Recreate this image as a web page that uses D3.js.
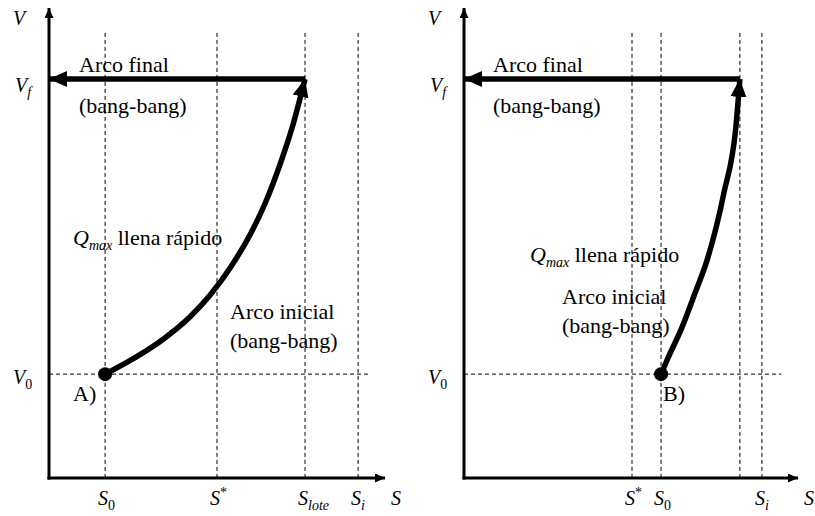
<!DOCTYPE html>
<html>
<head>
<meta charset="utf-8">
<script src="https://cdn.jsdelivr.net/npm/d3@7"></script>
<style>
  body { margin: 0; background: #fff; }
</style>
</head>
<body>
<svg id="chart" width="815" height="516"></svg>
<script>
// Substrate levels on the S axis (normalised units 0–100)
const sTicksA = [16.7, 50, 76.2, 92];
const sTickLabelsA = ["S_0", "S^*", "S_lote", "S_i"];
const sTicksB = [50.3, 59, 82.6, 89.2];
const sTickLabelsB = ["S^*", "S_0", "", "S_i"];

// Volume levels on the V axis (normalised units 0–100)
const vLevels = [22.1, 84.9];
const vLabels = ["V_0", "V_f"];

// Fast-fill trajectory (Q_max), case A
const arcA_S = [16.7, 25.6, 34.5, 42.0, 47.9, 53.9, 59.8, 64.3, 68.75, 72.3, 76.2];
const arcA_V = [22.1, 25.6, 29.8, 34.3, 38.9, 44.7, 51.7, 58.4, 66.7, 74.4, 84.9];
// Fast-fill trajectory (Q_max), case B
const arcB_S = [59.0, 60.8, 65.3, 69.2, 72.8, 77.8, 81.4, 82.6];
const arcB_V = [22.1, 25.1, 32.1, 39.4, 46.4, 60.6, 74.7, 84.9];

const FONT_FAMILY = "'Liberation Serif'";
const svg = d3.select("#chart");
const y = d3.scaleLinear().domain([0, 100]).range([478, 8]);
const FONT = 22, SYM = 20, SUB = 14;

const defs = svg.append("defs");
function head(id, len, wid) {
  defs.append("marker")
    .attr("id", id)
    .attr("viewBox", `0 0 ${len} ${wid}`)
    .attr("refX", len).attr("refY", wid / 2)
    .attr("markerWidth", len).attr("markerHeight", wid)
    .attr("markerUnits", "userSpaceOnUse")
    .attr("orient", "auto")
    .append("path")
    .attr("d", `M0,0L${len},${wid / 2}L0,${wid}Z`)
    .attr("fill", "#000");
}
head("axisHead", 10, 9);
head("bigHead", 18, 16);

function textAt(g, px, py, size) {
  return g.append("text")
    .attr("x", px).attr("y", py)
    .attr("font-size", size)
    .style("font-family", FONT_FAMILY)
    .attr("fill", "#000");
}

// Symbol with optional subscript / superscript
function symbol(g, str, px, py) {
  const t = textAt(g, px, py, SYM);
  let base = str, sub = null, sup = null;
  if (str.includes("_")) { [base, sub] = str.split("_"); }
  else if (str.includes("^")) { [base, sup] = str.split("^"); }
  t.append("tspan").attr("font-style", "italic").text(base);
  if (sub) {
    t.append("tspan").attr("font-size", SUB).attr("dy", 5)
      .attr("font-style", /[a-z]/.test(sub) ? "italic" : "normal").text(sub);
  }
  if (sup) {
    t.append("tspan").attr("font-size", SUB).attr("dy", -8).text(sup);
  }
}
function plain(g, str, px, py) {
  textAt(g, px, py, FONT).text(str);
}
function qmax(g, px, py) {
  const t = textAt(g, px, py, FONT);
  t.append("tspan").attr("font-style", "italic").text("Q");
  t.append("tspan").attr("font-style", "italic").attr("font-size", SUB).attr("dy", 5).text("max");
  t.append("tspan").attr("dy", -5).text(" llena rápido");
}

const panels = [
  { x0: 49, x1: 385, ticks: sTicksA, tickLabels: sTickLabelsA, arcS: arcA_S, arcV: arcA_V,
    tag: "A)", final: [30, 72, 113], q: [24, 245], initial: [181, 319, 348], tagPos: [24, 401] },
  { x0: 464, x1: 798, ticks: sTicksB, tickLabels: sTickLabelsB, arcS: arcB_S, arcV: arcB_V,
    tag: "B)", final: [29, 72, 113], q: [66, 262], initial: [98, 304, 333], tagPos: [199, 401] }
];

panels.forEach(p => {
  const x = d3.scaleLinear().domain([0, 100]).range([p.x0, p.x1]);
  const g = svg.append("g");
  const ax = x(0);

  // dashed guides
  p.ticks.forEach(s => {
    g.append("line")
      .attr("x1", x(s)).attr("x2", x(s))
      .attr("y1", y(94.7)).attr("y2", y(0))
      .attr("stroke", "#000").attr("stroke-width", 1).attr("stroke-dasharray", "4,3");
  });
  g.append("line")
    .attr("x1", x(0)).attr("x2", x(95))
    .attr("y1", y(vLevels[0])).attr("y2", y(vLevels[0]))
    .attr("stroke", "#000").attr("stroke-width", 1).attr("stroke-dasharray", "4,3");

  // axes
  g.append("line").attr("x1", ax).attr("x2", ax).attr("y1", y(0) + 1.5).attr("y2", y(100))
    .attr("stroke", "#000").attr("stroke-width", 3).attr("marker-end", "url(#axisHead)");
  g.append("line").attr("x1", ax - 1.5).attr("x2", x(100)).attr("y1", y(0)).attr("y2", y(0))
    .attr("stroke", "#000").attr("stroke-width", 3).attr("marker-end", "url(#axisHead)");

  // final arc (bang-bang) at V_f back to the axis
  const sEnd = p.arcS[p.arcS.length - 1];
  g.append("line")
    .attr("x1", x(sEnd)).attr("x2", x(0))
    .attr("y1", y(vLevels[1])).attr("y2", y(vLevels[1]))
    .attr("stroke", "#000").attr("stroke-width", 5.5).attr("marker-end", "url(#bigHead)");

  // Q_max fast-fill arc
  const pts = p.arcS.map((s, i) => [s, p.arcV[i]]);
  g.append("path")
    .attr("d", d3.line().x(d => x(d[0])).y(d => y(d[1])).curve(d3.curveMonotoneX)(pts))
    .attr("fill", "none").attr("stroke", "#000").attr("stroke-width", 5.5)
    .attr("marker-end", "url(#bigHead)");
  g.append("circle").attr("cx", x(p.arcS[0])).attr("cy", y(p.arcV[0])).attr("r", 7).attr("fill", "#000");

  // axis symbols
  symbol(g, "V", ax - 36, 25);
  symbol(g, vLabels[1], ax - 34, 92);
  symbol(g, vLabels[0], ax - 36, 384);
  p.ticks.forEach((s, i) => { if (p.tickLabels[i]) symbol(g, p.tickLabels[i], x(s) - 7, 505); });
  symbol(g, "S", x(100) + 6, 505);

  // annotations
  plain(g, "Arco final", ax + p.final[0], p.final[1]);
  plain(g, "(bang-bang)", ax + p.final[0], p.final[2]);
  qmax(g, ax + p.q[0], p.q[1]);
  plain(g, "Arco inicial", ax + p.initial[0], p.initial[1]);
  plain(g, "(bang-bang)", ax + p.initial[0], p.initial[2]);
  plain(g, p.tag, ax + p.tagPos[0], p.tagPos[1]);
});
</script>
</body>
</html>
